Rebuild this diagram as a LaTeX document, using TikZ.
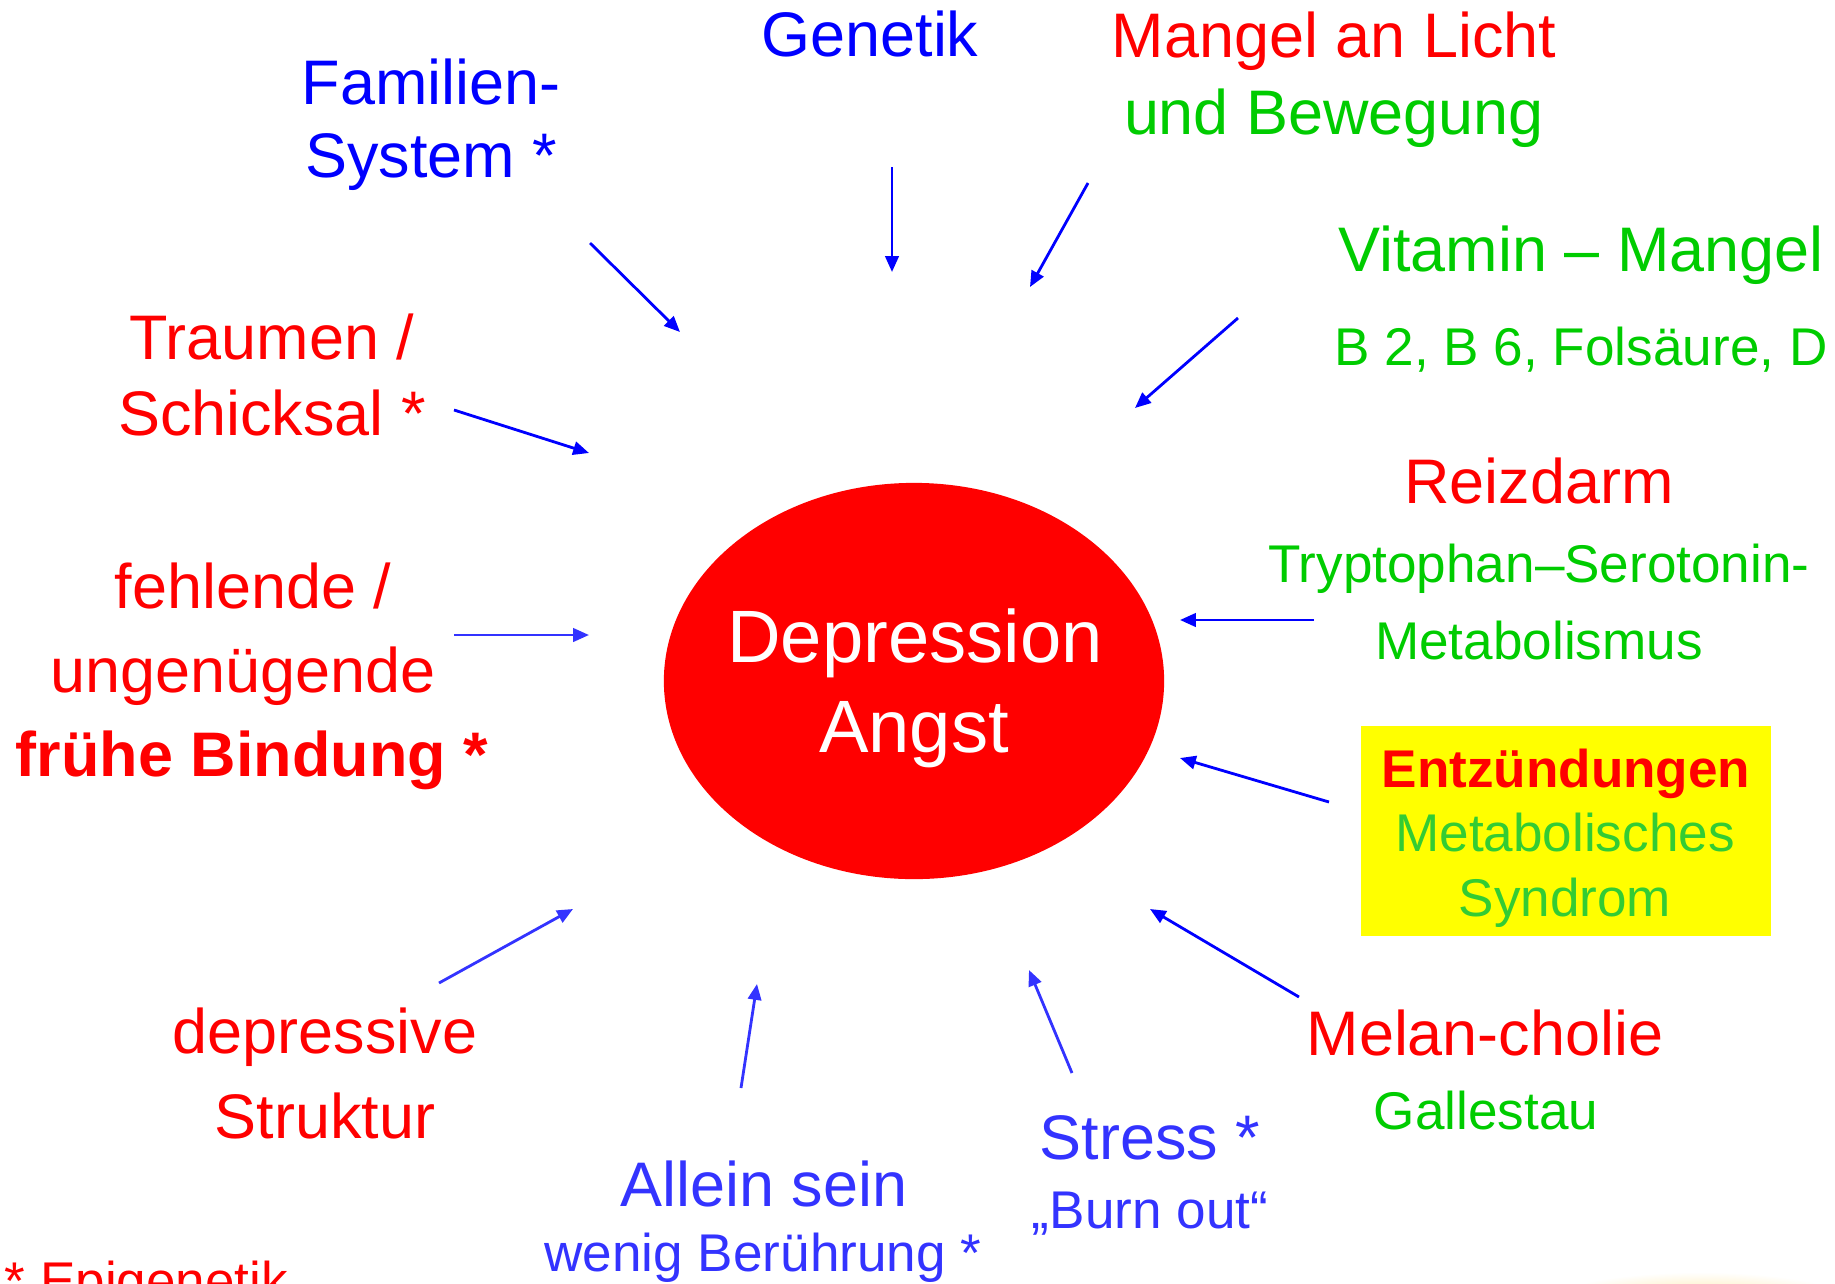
\documentclass[tikz,border=0pt]{standalone}
\usepackage{xcolor}
\usepackage{fontspec}
\setmainfont{Liberation Sans}
\usepackage{tikz}
\usetikzlibrary{arrows.meta,shapes.geometric}
\definecolor{CauseRed}{RGB}{255,0,0}
\definecolor{CauseBlue}{RGB}{0,0,255}
\definecolor{SoftBlue}{RGB}{51,51,255}
\definecolor{CauseGreen}{RGB}{0,204,0}
\definecolor{SoftGreen}{RGB}{51,204,51}
\definecolor{BoxYellow}{RGB}{255,255,0}
\definecolor{GlowOrange}{RGB}{255,228,150}

\begin{document}
\begin{tikzpicture}[
    x=0.01cm, y=-0.01cm,
    big/.style={anchor=base, inner sep=0pt, font=\fontsize{17.9}{21}\selectfont},
    small/.style={anchor=base, inner sep=0pt, font=\fontsize{15.1}{18}\selectfont},
    huge/.style={anchor=base, inner sep=0pt, text=white, font=\fontsize{21.1}{25}\selectfont},
    arrow/.style={-{Triangle[length=4.5pt,width=3.8pt]}, line width=0.8pt, color=CauseBlue},
    softarrow/.style={arrow, color=SoftBlue}
  ]
    \useasboundingbox (0,0) rectangle (1835,1284);
    \clip (0,0) rectangle (1835,1284);
    \fill[white] (0,0) rectangle (1835,1284);
    \shade[inner color=GlowOrange, outer color=white] (1700,1306) ellipse [x radius=1.6cm, y radius=0.34cm];

    \node[ellipse, fill=CauseRed, minimum width=5cm, minimum height=3.96cm, inner sep=0pt] (core) at (914,681) {};
    \node[huge] (depr) at (915,662) {Depression};
    \node[huge] (angst) at (914,752) {Angst};

    \node[fill=BoxYellow, minimum width=4.1cm, minimum height=2.1cm, inner sep=0pt] (inflbox) at (1566,831) {};

    \node[big, CauseBlue] (famA) at (431,104) {Familien-};
    \node[big, CauseBlue] (famB) at (431,177) {System *};
    \node[big, CauseBlue] (gen) at (870,56) {Genetik};
    \node[big, CauseRed] (lightA) at (1334,57) {Mangel an Licht};
    \node[big, CauseGreen] (lightB) at (1334,134) {und Bewegung};
    \node[big, CauseGreen] (vitA) at (1581,271) {Vitamin – Mangel};
    \node[small, CauseGreen] (vitB) at (1581,365) {B 2, B 6, Folsäure, D};
    \node[big, CauseRed] (traumA) at (272,359) {Traumen /};
    \node[big, CauseRed] (traumB) at (272,435) {Schicksal *};
    \node[big, CauseRed] (reizA) at (1539,503) {Reizdarm};
    \node[small, CauseGreen] (reizB) at (1539,582) {Tryptophan–Serotonin-};
    \node[small, CauseGreen] (reizC) at (1539,659) {Metabolismus};
    \node[big, CauseRed] (bondA) at (253,608) {fehlende /};
    \node[big, CauseRed] (bondB) at (243,692) {ungenügende};
    \node[big, CauseRed, font=\fontsize{17.9}{21}\selectfont\bfseries] (bondC) at (252,776) {frühe Bindung *};
    \node[small, CauseRed, font=\fontsize{15.1}{18}\selectfont\bfseries] (inflA) at (1566,787) {Entzündungen};
    \node[small, SoftGreen] (inflB) at (1565,851) {Metabolisches};
    \node[small, SoftGreen] (inflC) at (1565,916) {Syndrom};
    \node[big, CauseRed] (melA) at (1485,1055) {Melan-cholie};
    \node[small, CauseGreen] (melB) at (1486,1129) {Gallestau};
    \node[big, CauseRed] (structA) at (325,1053) {depressive};
    \node[big, CauseRed] (structB) at (325,1138) {Struktur};
    \node[big, SoftBlue] (aloneA) at (764,1206) {Allein sein};
    \node[small, SoftBlue] (aloneB) at (763,1271) {wenig Berührung *};
    \node[big, SoftBlue] (stressA) at (1150,1159) {Stress *};
    \node[small, SoftBlue] (stressB) at (1150,1228) {„Burn out“};
    \node[small, CauseRed, anchor=base west] (epi) at (4,1299) {* Epigenetik};

    \coordinate (famT) at (590,243);
    \coordinate (famH) at (680,332);
    \coordinate (genT) at (892,167);
    \coordinate (genH) at (892,272);
    \coordinate (lightT) at (1088,183);
    \coordinate (lightH) at (1030,287);
    \coordinate (vitT) at (1238,318);
    \coordinate (vitH) at (1135,408);
    \coordinate (traumT) at (454,410);
    \coordinate (traumH) at (589,453);
    \coordinate (bondT) at (454,635);
    \coordinate (bondH) at (589,635);
    \coordinate (reizT) at (1314,620);
    \coordinate (reizH) at (1180,620);
    \coordinate (inflT) at (1329,802);
    \coordinate (inflH) at (1180,758);
    \coordinate (melT) at (1299,997);
    \coordinate (melH) at (1150,909);
    \coordinate (stressT) at (1072,1073);
    \coordinate (stressH) at (1029,970);
    \coordinate (aloneT) at (741,1088);
    \coordinate (aloneH) at (757,984);
    \coordinate (structT) at (439,983);
    \coordinate (structH) at (573,909);

    \draw[arrow] (famT) -- (famH);
    \draw[arrow] (genT) -- (genH);
    \draw[arrow] (lightT) -- (lightH);
    \draw[arrow] (vitT) -- (vitH);
    \draw[arrow] (traumT) -- (traumH);
    \draw[softarrow] (bondT) -- (bondH);
    \draw[arrow] (reizT) -- (reizH);
    \draw[arrow] (inflT) -- (inflH);
    \draw[arrow] (melT) -- (melH);
    \draw[softarrow] (stressT) -- (stressH);
    \draw[softarrow] (aloneT) -- (aloneH);
    \draw[softarrow] (structT) -- (structH);
  \end{tikzpicture}
\end{document}
